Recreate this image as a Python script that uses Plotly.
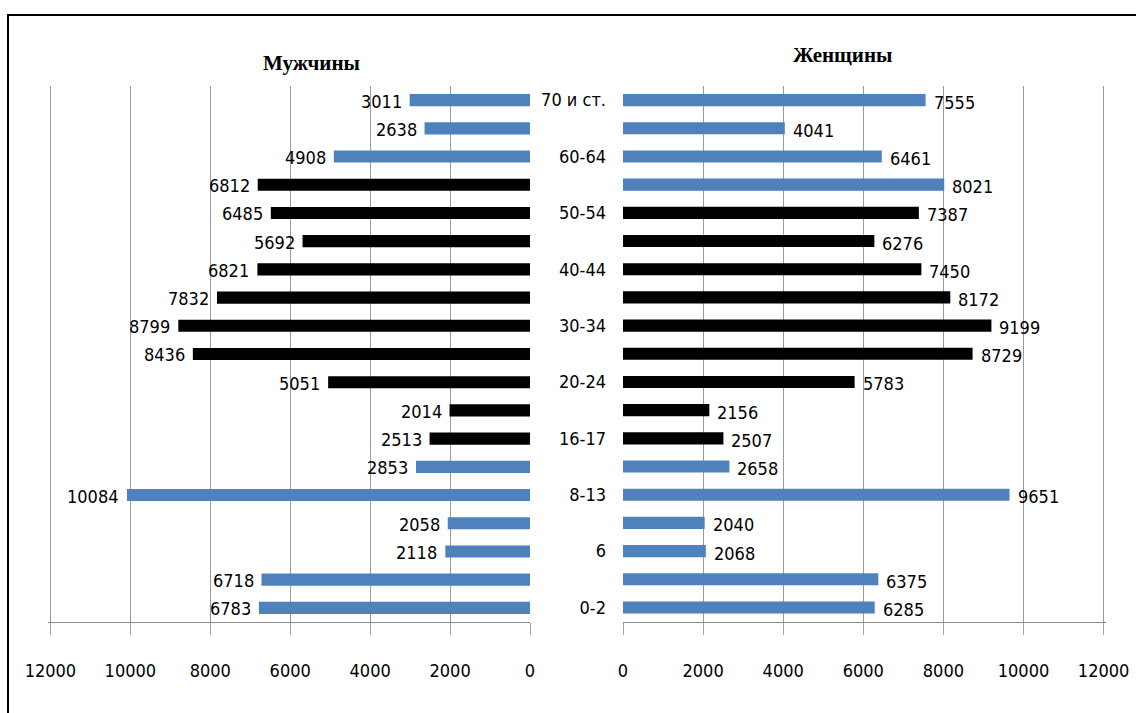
import plotly.graph_objects as go

# Age groups, youngest to oldest (plotted bottom to top)
ages = ["0-2", "3-5", "6", "7", "8-13", "14-15", "16-17", "18-19", "20-24",
        "25-29", "30-34", "35-39", "40-44", "45-49", "50-54", "55-59",
        "60-64", "65-69", "70 и ст."]

men = [6783, 6718, 2118, 2058, 10084, 2853, 2513, 2014, 5051,
       8436, 8799, 7832, 6821, 5692, 6485, 6812, 4908, 2638, 3011]

women = [6285, 6375, 2068, 2040, 9651, 2658, 2507, 2156, 5783,
         8729, 9199, 8172, 7450, 6276, 7387, 8021, 6461, 4041, 7555]

# Working-age groups (drawn in black)
men_working = ["16-17", "18-19", "20-24", "25-29", "30-34", "35-39",
               "40-44", "45-49", "50-54", "55-59"]
women_working = ["16-17", "18-19", "20-24", "25-29", "30-34", "35-39",
                 "40-44", "45-49", "50-54"]

# Only every other age group is labelled on the axis
age_ticks = ages[::2]

x_ticks = [0, 2000, 4000, 6000, 8000, 10000, 12000]
x_max = 12060  # slightly past the last tick so its gridline is drawn

BLUE = "#4F81BD"
BLACK = "#000000"
NUM_FONT = "DejaVu Sans Condensed, Roboto, Liberation Sans, sans-serif"
TITLE_FONT = "Liberation Serif, DejaVu Serif, serif"

W, H = 1136, 713


def px_x(p):
    return p / W


def px_y(p):
    return 1 - p / H


men_colors = [BLACK if a in men_working else BLUE for a in ages]
women_colors = [BLACK if a in women_working else BLUE for a in ages]

fig = go.Figure()

fig.add_trace(go.Bar(
    x=men, y=ages, orientation="h", marker=dict(color=men_colors, line=dict(width=0)),
    xaxis="x", yaxis="y", hoverinfo="skip", showlegend=False,
))
fig.add_trace(go.Bar(
    x=women, y=ages, orientation="h", marker=dict(color=women_colors, line=dict(width=0)),
    xaxis="x2", yaxis="y2", hoverinfo="skip", showlegend=False,
))

# Value labels: category rows are addressed by index on the category axis
annotations = []
for i, v in enumerate(men):
    annotations.append(dict(
        x=v, y=i, xref="x", yref="y", text=str(v), showarrow=False,
        xanchor="right", yanchor="middle", xshift=-6, yshift=-1,
        font=dict(family=NUM_FONT, size=18, color="#000"),
    ))
for i, v in enumerate(women):
    annotations.append(dict(
        x=v, y=i, xref="x2", yref="y2", text=str(v), showarrow=False,
        xanchor="left", yanchor="middle", xshift=6, yshift=-2,
        font=dict(family=NUM_FONT, size=18, color="#000"),
    ))

annotations.append(dict(
    x=px_x(311), y=px_y(63), xref="paper", yref="paper", text="<b>Мужчины</b>",
    showarrow=False, xanchor="center", yanchor="middle",
    font=dict(family=TITLE_FONT, size=21, color="#000"),
))
annotations.append(dict(
    x=px_x(842), y=px_y(55), xref="paper", yref="paper", text="<b>Женщины</b>",
    showarrow=False, xanchor="center", yanchor="middle",
    font=dict(family=TITLE_FONT, size=21, color="#000"),
))

plot_top = 86
plot_bottom = 622
y_domain = [px_y(plot_bottom), px_y(plot_top)]

x_common = dict(
    tickvals=x_ticks, ticktext=[str(t) for t in x_ticks],
    showgrid=True, gridcolor="#9a9a9a", gridwidth=1,
    zeroline=False, showline=True, linecolor="#8c8c8c", linewidth=1,
    ticks="outside", ticklen=12, tickcolor="#a0a0a0", tickwidth=1,
    ticklabelstandoff=20, automargin=False,
    tickfont=dict(family=NUM_FONT, size=18, color="#000"),
    fixedrange=True,
)

fig.update_layout(
    width=W, height=H,
    margin=dict(l=0, r=0, t=0, b=0, autoexpand=False),
    paper_bgcolor="white", plot_bgcolor="white",
    bargap=0.57,
    xaxis=dict(domain=[px_x(48), px_x(530)], range=[x_max, 0], anchor="y", **x_common),
    xaxis2=dict(domain=[px_x(623), px_x(1106)], range=[0, x_max], anchor="y2", **x_common),
    yaxis=dict(domain=y_domain, anchor="x", categoryorder="array", categoryarray=ages,
               showticklabels=False, showgrid=False, zeroline=False, showline=False,
               ticks="", automargin=False, fixedrange=True),
    yaxis2=dict(domain=y_domain, anchor="x2", categoryorder="array", categoryarray=ages,
                tickvals=age_ticks, ticktext=age_ticks, showgrid=False, zeroline=False,
                showline=False, ticks="", ticklabelstandoff=16, automargin=False,
                tickfont=dict(family=NUM_FONT, size=18, color="#000"), fixedrange=True),
    annotations=annotations,
    shapes=[dict(
        type="rect", xref="paper", yref="paper",
        x0=px_x(8), x1=1.02, y0=-0.02, y1=px_y(15),
        line=dict(color="#000", width=2), fillcolor="rgba(0,0,0,0)", layer="above",
    )],
)

fig.write_html("out.html", config={"displayModeBar": False})
